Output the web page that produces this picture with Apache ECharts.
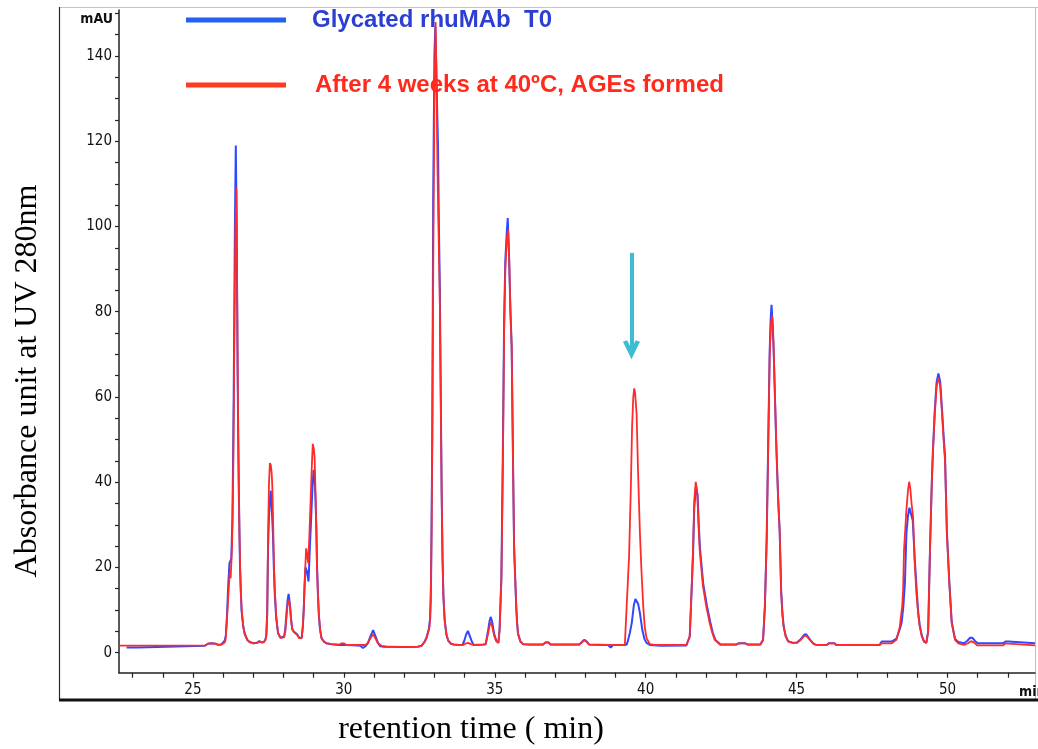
<!DOCTYPE html>
<html>
<head>
<meta charset="utf-8">
<title>Glycated rhuMAb chromatogram</title>
<script src="https://cdn.jsdelivr.net/npm/echarts@6/dist/echarts.min.js"></script>
<style>
  html, body { margin: 0; padding: 0; background: #ffffff; }
  #chart { width: 1038px; height: 749px; }
</style>
</head>
<body>
<div id="chart"></div>
<script>
// Series names shown in the legend
const seriesNames = ['Glycated rhuMAb  T0', 'After 4 weeks at 40ºC, AGEs formed'];

// Axis tick labels
const timeLabels = [25, 30, 35, 40, 45, 50];
const timeTicks = [23, 24, 25, 26, 27, 28, 29, 30, 31, 32, 33, 34, 35, 36, 37, 38, 39, 40, 41, 42, 43, 44, 45, 46, 47, 48, 49, 50, 51, 52];
const absLabels = [0, 20, 40, 60, 80, 100, 120, 140];
const absTicks = [0, 5, 10, 15, 20, 25, 30, 35, 40, 45, 50, 55, 60, 65, 70, 75, 80, 85, 90, 95, 100, 105, 110, 115, 120, 125, 130, 135, 140, 145, 150];

// UV 280 nm trace at T0: [retention time (min), absorbance (mAU)]
const traceT0 = [
  [22.80,1.2],[23.18,1.2],[23.22,1.6],[25.40,1.65],[25.50,2.1],[25.60,2.2],[25.75,2.1],[25.85,1.8],[25.95,2.0],[26.05,2.8],
  [26.09,4],[26.13,9],[26.17,16],[26.21,21],[26.24,21],[26.27,22],[26.31,32],[26.35,60],[26.39,100],[26.42,119],[26.45,100],
  [26.48,65],[26.52,38],[26.56,20],[26.61,10],[26.66,6.5],[26.71,4.5],[26.80,3],[26.88,2.5],[27.00,2.2],[27.12,2.3],[27.20,2.7],
  [27.28,2.4],[27.35,2.5],
  [27.40,3.0],[27.43,4],[27.46,9],[27.49,25],[27.52,32],[27.55,36],[27.58,38],[27.61,34],[27.63,31],[27.65,28],[27.68,20],
  [27.71,14],[27.76,8],[27.82,4.6],[27.90,3.5],[27.96,3.2],
  [28.02,3.8],[28.06,5.5],[28.10,9.3],[28.14,12.5],[28.17,13.8],[28.21,11.5],[28.25,8],[28.29,5.5],[28.35,4.9],[28.45,4.3],
  [28.52,3.5],[28.60,3.4],
  [28.64,6],[28.67,10],[28.70,16],[28.73,20],[28.78,19],[28.83,16.7],[28.87,24],[28.92,32],[28.96,39],[29.00,42.9],[29.03,41],
  [29.06,36],[29.09,29],[29.11,21],[29.14,14],[29.17,9],[29.21,5.5],[29.26,3.4],[29.34,2.6],[29.42,2.2],
  [29.60,2.0],[29.85,1.8],[30.08,1.8],[30.45,1.7],[30.55,1.6],[30.63,1.1],[30.72,1.5],
  [30.80,2.3],[30.88,3.8],[30.97,5.3],[31.05,3.8],[31.13,2.3],[31.20,1.5],[31.25,1.1],[31.32,1.4],[31.40,1.4],[32.00,1.35],[32.45,1.4],
  [32.57,1.6],[32.68,2.6],[32.74,3.6],[32.81,5.3],[32.86,8],[32.89,17],[32.93,50],[32.96,106],[33.00,140],[33.03,147],[33.06,138],
  [33.09,128],[33.12,119],[33.15,100],[33.18,86],[33.21,62],[33.24,38],[33.27,22],[33.30,13],[33.34,7.7],[33.40,4.2],[33.46,2.8],
  [33.55,2.1],[33.65,1.9],
  [33.85,1.8],[33.93,1.8],[33.99,2.8],[34.05,4.2],[34.11,5.1],[34.17,4.0],[34.24,2.6],[34.30,1.8],[34.62,1.9],
  [34.70,2.0],[34.78,5.2],[34.83,7.5],[34.87,8.4],[34.92,7],[34.98,4.4],[35.05,2.8],[35.12,2.3],
  [35.16,5.5],[35.22,18],[35.27,48],[35.31,78],[35.35,92],[35.40,99],[35.43,102],[35.47,94],[35.52,80],[35.56,72],[35.60,48],
  [35.64,25],[35.68,17],[35.71,11],[35.74,7],[35.77,4.5],[35.85,2.6],[35.94,2.0],[36.16,1.9],
  [36.60,1.9],[36.68,2.4],[36.78,2.4],[36.85,1.9],[37.80,1.9],[37.90,2.6],[37.97,3.0],[38.05,2.6],[38.13,1.9],[38.75,1.8],
  [38.84,1.2],[38.92,1.8],[39.30,1.8],
  [39.37,1.9],[39.42,3.0],[39.48,4.8],[39.54,7.0],[39.61,11.2],[39.66,12.6],[39.70,12.8],[39.75,11.5],[39.81,9.3],[39.89,5.3],
  [39.96,3.2],[40.03,2.3],[40.14,1.8],[40.50,1.6],[41.35,1.7],
  [41.41,1.9],[41.46,3.8],[41.52,14],[41.57,23],[41.61,34],[41.67,39],[41.72,37],[41.76,30],[41.80,24.5],[41.91,16],[42.03,11],
  [42.14,7.2],[42.22,4.8],[42.31,3.0],[42.48,1.9],
  [43.00,1.9],[43.08,2.2],[43.30,2.2],[43.38,1.9],[43.80,1.9],
  [43.84,2.0],[43.89,3.0],[43.95,10.8],[44.01,27],[44.06,49],[44.11,71],[44.14,78],[44.17,81.6],[44.20,78],[44.24,71],[44.33,48.3],
  [44.39,36],[44.44,28.6],[44.49,14.5],[44.53,9.5],[44.57,6.3],[44.64,3.9],[44.72,2.7],[44.88,2.3],
  [45.00,2.3],[45.12,3.0],[45.25,4.2],[45.32,4.3],[45.42,3.3],[45.55,2.2],[45.65,1.8],[46.00,1.8],[46.07,2.2],[46.25,2.2],
  [46.32,1.8],[47.75,1.8],[47.82,2.6],[48.15,2.6],
  [48.20,2.6],[48.31,3.3],[48.42,5.5],[48.48,7.0],[48.54,11],[48.59,16.4],[48.64,28.1],[48.69,32],[48.74,34],[48.79,34.4],
  [48.85,31],[48.91,22.7],[48.98,14.7],[49.03,9.5],[49.08,6.5],[49.15,4.0],[49.22,2.7],[49.30,2.3],
  [49.36,5],[49.42,24],[49.48,39.8],[49.52,47.6],[49.58,57],[49.64,63.5],[49.70,65.5],[49.76,63.5],[49.82,57],[49.88,50],
  [49.92,46],[49.98,28.5],[50.06,16.8],[50.14,7.2],[50.25,3.2],[50.36,2.5],[50.55,2.2],
  [50.66,2.8],[50.75,3.5],[50.82,3.5],[50.92,2.7],[51.00,2.2],[51.85,2.2],[51.92,2.6],[52.02,2.6],[52.08,2.2],[52.90,2.2]
];

// UV 280 nm trace after 4 weeks at 40 ºC
const traceAged = [
  [22.55,1.65],[25.40,1.7],[25.50,2.1],[25.60,2.2],[25.75,2.1],[25.85,1.8],[25.95,1.9],[26.05,2.4],
  [26.08,3.0],[26.12,7],[26.17,13],[26.22,19],[26.25,17.5],[26.30,26],[26.34,45],[26.38,80],[26.41,100],[26.44,109],[26.47,80],
  [26.50,50],[26.54,28],[26.58,15],[26.62,9.5],[26.67,6],[26.71,4.7],[26.80,3.0],[26.88,2.5],[27.00,2.2],[27.12,2.3],[27.20,2.6],
  [27.28,2.4],[27.35,2.5],
  [27.40,3.0],[27.43,4],[27.46,9],[27.49,28],[27.52,40],[27.55,44.5],[27.58,44],[27.61,42],[27.63,39],[27.65,33],[27.68,22],
  [27.71,15],[27.76,8.5],[27.82,4.6],[27.90,3.5],[27.96,3.2],
  [28.02,3.6],[28.06,5],[28.10,8.5],[28.14,11.5],[28.18,12.4],[28.22,10.5],[28.26,7],[28.30,5.3],[28.36,4.7],[28.45,4.2],
  [28.52,3.4],[28.60,3.4],
  [28.64,6],[28.67,10],[28.71,18],[28.75,24.5],[28.78,23],[28.82,21],[28.86,28],[28.90,36],[28.94,44],[28.97,49],[29.00,48],
  [29.03,46],[29.06,38],[29.09,28],[29.11,20],[29.14,14],[29.17,9.3],[29.21,5.5],[29.26,3.4],[29.34,2.6],[29.42,2.2],
  [29.60,2.0],[29.85,1.9],[29.93,2.2],[30.00,2.2],[30.08,1.8],[30.40,1.8],[30.72,1.8],
  [30.80,2.3],[30.88,3.4],[30.97,4.3],[31.05,3.3],[31.13,2.2],[31.25,1.6],[31.40,1.4],[32.00,1.35],[32.45,1.4],
  [32.57,1.6],[32.66,2.4],[32.74,3.4],[32.84,6.1],[32.88,12],[32.91,30],[32.94,65],[32.97,100],[33.00,130],[33.04,148],[33.07,135],
  [33.10,115],[33.14,98],[33.18,82],[33.21,60],[33.24,38],[33.27,22],[33.30,13],[33.34,7.7],[33.40,4.2],[33.46,2.8],[33.55,2.1],
  [33.65,1.9],
  [33.95,1.8],[34.05,2.2],[34.12,2.3],[34.20,2.0],[34.35,1.8],[34.62,1.9],
  [34.70,2.0],[34.78,4.5],[34.83,6.4],[34.87,7.1],[34.92,6],[34.98,4],[35.05,2.7],[35.12,2.3],
  [35.16,5.2],[35.22,17],[35.27,45],[35.31,75],[35.35,90],[35.40,97],[35.44,99.3],[35.48,92],[35.52,80],[35.56,72],[35.60,48],
  [35.64,25],[35.68,17],[35.71,11],[35.74,7],[35.77,4.5],[35.85,2.6],[35.94,2.0],[36.16,1.9],
  [36.60,1.9],[36.68,2.4],[36.78,2.4],[36.85,1.9],[37.80,1.9],[37.90,2.5],[37.97,2.9],[38.05,2.5],[38.13,1.9],[38.80,1.8],[39.20,1.8],
  [39.31,1.9],[39.37,10.8],[39.45,22.5],[39.51,39],[39.55,53],[39.59,60],[39.62,62],[39.65,61],[39.70,56],[39.75,42],[39.81,28],
  [39.86,19.4],[39.92,10.8],[39.97,6],[40.03,3.4],[40.14,2.0],[40.30,1.8],[41.35,1.8],
  [41.41,1.9],[41.46,3.8],[41.52,14.7],[41.57,24.1],[41.61,35.8],[41.66,40.1],[41.71,37.5],[41.75,30],[41.79,24.1],[41.90,15.5],
  [42.01,10.8],[42.12,7.0],[42.20,4.8],[42.29,3.0],[42.46,1.9],
  [43.00,1.9],[43.08,2.2],[43.30,2.2],[43.38,1.9],[43.80,1.9],
  [43.84,2.0],[43.89,3.0],[43.95,10.8],[44.01,26.4],[44.06,48.3],[44.11,70],[44.15,77],[44.19,79.2],[44.22,76],[44.25,69],
  [44.33,48.3],[44.39,36],[44.44,28.6],[44.49,14],[44.53,9],[44.57,6.1],[44.64,3.8],[44.72,2.6],[44.88,2.3],
  [45.00,2.3],[45.12,2.9],[45.25,3.9],[45.32,4.0],[45.42,3.2],[45.55,2.1],[45.65,1.8],[46.00,1.8],[46.07,2.2],[46.25,2.2],
  [46.32,1.8],[47.75,1.8],[47.82,2.2],[48.15,2.2],
  [48.20,2.3],[48.31,3.0],[48.42,6.1],[48.50,11],[48.53,14.7],[48.56,24.1],[48.64,33.5],[48.69,38],[48.73,40.1],[48.77,38.5],
  [48.81,35],[48.86,31.9],[48.91,21.8],[48.97,14],[49.03,9],[49.08,6.1],[49.15,3.8],[49.22,2.6],[49.30,2.3],
  [49.36,5],[49.42,24],[49.48,39.8],[49.52,47.6],[49.58,56],[49.64,62.5],[49.70,64.6],[49.76,62.5],[49.82,56],[49.88,49],
  [49.92,45],[49.98,28],[50.06,16.4],[50.14,7.0],[50.25,3.0],[50.36,2.2],[50.55,1.8],
  [50.68,2.2],[50.78,2.7],[50.90,2.3],[50.98,1.7],[51.85,1.7],[51.92,2.2],[52.02,2.1],[52.08,1.7],[52.90,1.7]
];

// Arrow pointing at the peak that grows during storage: [time, from mAU, to mAU]
const agePeakArrow = [39.53, 93.8, 71.1];

const tickFont = "'Liberation Sans Narrow', 'DejaVu Sans Condensed', 'Liberation Sans', sans-serif";
const serifFont = "'Liberation Serif', 'DejaVu Serif', serif";

const chart = echarts.init(document.getElementById('chart'), null, { renderer: 'canvas' });

chart.setOption({
  animation: false,
  backgroundColor: '#ffffff',
  grid: { left: 119, right: 3, top: 10, bottom: 76.3, containLabel: false },
  legend: {
    orient: 'vertical',
    left: 186,
    top: 8,
    padding: 0,
    itemGap: 41,
    itemWidth: 100,
    itemHeight: 5,
    selectedMode: false,
    textStyle: { fontFamily: "'Liberation Sans', Arial, sans-serif", fontSize: 24, fontWeight: 'bold' },
    data: [
      { name: seriesNames[0], icon: 'rect', itemStyle: { color: '#2361f2' },
        textStyle: { color: '#2b3fd2', padding: [0, 0, 0, 21] } },
      { name: seriesNames[1], icon: 'rect', itemStyle: { color: '#ff3b22' },
        textStyle: { color: '#ff2a1c', padding: [0, 0, 0, 24] } }
    ]
  },
  xAxis: {
    type: 'value',
    min: 22.55,
    max: 52.9,
    axisLine: { show: true, onZero: false, lineStyle: { color: '#222', width: 1.5 } },
    axisTick: { show: true, length: 5, customValues: timeTicks, lineStyle: { color: '#222', width: 1.2 } },
    axisLabel: { customValues: timeLabels, margin: 10, fontSize: 15, color: '#111', fontFamily: tickFont },
    splitLine: { show: false }
  },
  yAxis: {
    type: 'value',
    min: -4.7,
    max: 150.8,
    axisLine: { show: true, onZero: false, lineStyle: { color: '#222', width: 1.5 } },
    axisTick: { show: true, length: 4, customValues: absTicks, lineStyle: { color: '#222', width: 1.2 } },
    axisLabel: { customValues: absLabels, margin: 7, fontSize: 15, color: '#111', fontFamily: tickFont },
    splitLine: { show: false }
  },
  series: [
    {
      name: seriesNames[0],
      type: 'line',
      data: traceT0,
      showSymbol: false,
      symbol: 'none',
      color: '#2f48ff',
      lineStyle: { color: '#2f48ff', width: 2 },
      emphasis: { disabled: true },
      z: 2
    },
    {
      name: seriesNames[1],
      type: 'line',
      data: traceAged,
      showSymbol: false,
      symbol: 'none',
      color: '#ff2a2a',
      lineStyle: { color: '#ff2a2a', width: 1.8 },
      emphasis: { disabled: true },
      z: 3,
      markLine: {
        silent: true,
        symbol: ['none', 'path://M8,0 L16,17 L12,18.5 L8,10 L4,18.5 L0,17 Z'],
        symbolSize: [17, 19],
        label: { show: false },
        lineStyle: { color: '#3dbdd2', width: 4, type: 'solid' },
        itemStyle: { color: '#3dbdd2' },
        emphasis: { disabled: true },
        data: [[
          { coord: [agePeakArrow[0], agePeakArrow[1]] },
          { coord: [agePeakArrow[0], agePeakArrow[2]] }
        ]]
      }
    }
  ],
  graphic: [
    { type: 'line', silent: true, shape: { x1: 59, y1: 7.5, x2: 1038, y2: 7.5 }, style: { stroke: '#c4c4c4', lineWidth: 1 } },
    { type: 'line', silent: true, shape: { x1: 59.5, y1: 7, x2: 59.5, y2: 700 }, style: { stroke: '#2a2a2a', lineWidth: 1.2 } },
    { type: 'line', silent: true, shape: { x1: 1035.5, y1: 7, x2: 1035.5, y2: 700 }, style: { stroke: '#bdbdbd', lineWidth: 1 } },
    { type: 'line', silent: true, shape: { x1: 59, y1: 700, x2: 1038, y2: 700 }, style: { stroke: '#111', lineWidth: 3 } },
    { type: 'text', silent: true, x: 113, y: 19,
      style: { text: 'mAU', font: "bold 14px " + tickFont, fill: '#111',
               align: 'right', verticalAlign: 'middle', textAlign: 'right', textVerticalAlign: 'middle' } },
    { type: 'text', silent: true, x: 1019, y: 692,
      style: { text: 'min', font: "bold 14px " + tickFont, fill: '#111',
               align: 'left', verticalAlign: 'middle', textAlign: 'left', textVerticalAlign: 'middle' } },
    { type: 'text', silent: true, x: 471, y: 730,
      style: { text: 'retention time ( min)', font: "32px " + serifFont, fill: '#000',
               align: 'center', verticalAlign: 'middle', textAlign: 'center', textVerticalAlign: 'middle' } },
    { type: 'text', silent: true, x: 28, y: 381, rotation: Math.PI / 2,
      style: { text: 'Absorbance unit at UV 280nm', font: "32px " + serifFont, fill: '#000',
               align: 'center', verticalAlign: 'middle', textAlign: 'center', textVerticalAlign: 'middle' } }
  ]
});
</script>
</body>
</html>
